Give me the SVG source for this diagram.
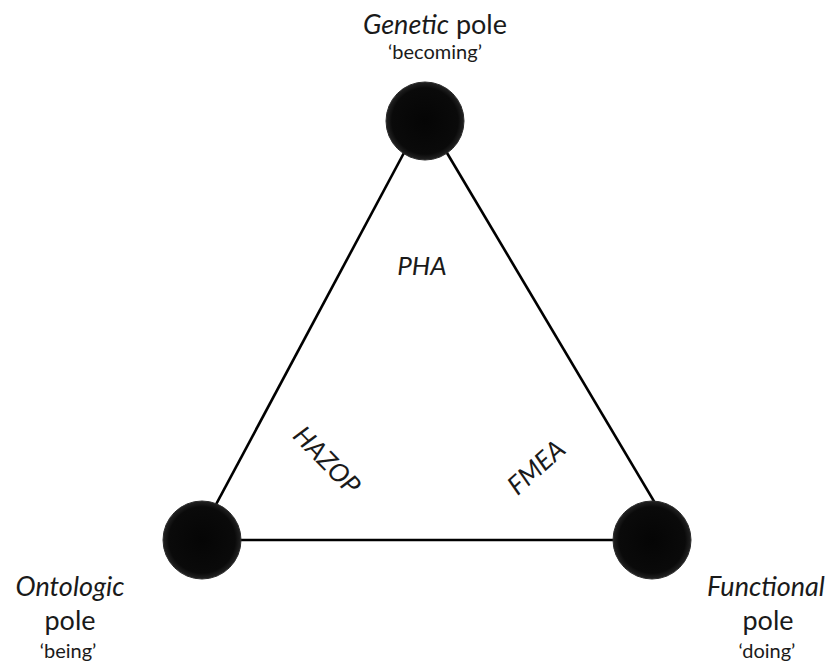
<svg xmlns="http://www.w3.org/2000/svg" width="829" height="662" viewBox="0 0 829 662">
<style>
text{font-family:Lato,"Open Sans","Liberation Sans",sans-serif;fill:#1a1a1a;text-anchor:middle}
.it{font-style:italic}
.top{font-size:27px}
.lbl{font-size:27px}
.sub{font-size:20px}
.m{font-size:26px;font-style:italic}
.edge{stroke:#000;stroke-width:2.6;fill:none}
.pole{fill:url(#g);stroke:#2a2a2a;stroke-width:1}
</style>
<defs>
<radialGradient id="g" cx="0.5" cy="0.5" r="0.5">
<stop offset="0" stop-color="#050505"/>
<stop offset="0.85" stop-color="#0a0a0a"/>
<stop offset="1" stop-color="#222"/>
</radialGradient>
</defs>
<rect width="829" height="662" fill="#fff"/>
<g id="connectors">
<line class="edge" x1="421" y1="121" x2="197" y2="540"/>
<line class="edge" x1="428" y1="121" x2="677" y2="540"/>
<line class="edge" x1="202" y1="540" x2="652" y2="540"/>
</g>
<g id="genetic">
<circle class="pole" cx="425" cy="121" r="39"/>
<text class="top" x="435" y="34"><tspan class="it">Genetic</tspan> pole</text>
<text class="sub" x="435" y="59">‘becoming’</text>
</g>
<g id="ontologic">
<circle class="pole" cx="202" cy="540" r="39"/>
<text class="lbl it" x="70" y="596">Ontologic</text>
<text class="lbl" x="70" y="630">pole</text>
<text class="sub" x="68" y="658">‘being’</text>
</g>
<g id="functional">
<circle class="pole" cx="652" cy="540" r="39"/>
<text class="lbl it" x="766" y="596">Functional</text>
<text class="lbl" x="768" y="630">pole</text>
<text class="sub" x="767" y="658">‘doing’</text>
</g>
<g id="labels">
<text class="m" x="422" y="275">PHA</text>
<text class="m" transform="translate(326,461) rotate(46)" y="8">HAZOP</text>
<text class="m" transform="translate(537,468) rotate(-42)" y="8">FMEA</text>
</g>
</svg>
